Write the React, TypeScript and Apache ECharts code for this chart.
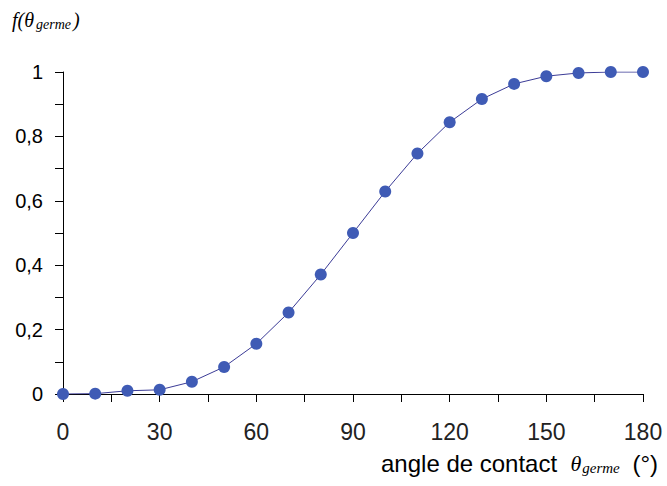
import React, { useEffect, useRef } from "react";
import * as echarts from "echarts";

const angles = [0, 10, 20, 30, 40, 50, 60, 70, 80, 90, 100, 110, 120, 130, 140, 150, 160, 170, 180];
const fValues = [0, 0.001, 0.01, 0.013, 0.038, 0.084, 0.156, 0.253, 0.371, 0.5, 0.629, 0.747, 0.844, 0.916, 0.963, 0.987, 0.997, 1.0, 1.0];
const xTicks = [0, 30, 60, 90, 120, 150, 180];
const yTicks = [0, 0.2, 0.4, 0.6, 0.8, 1];

export default function App() {
  const ref = useRef<HTMLDivElement>(null);
  useEffect(() => {
    if (!ref.current) return;
    const chart = echarts.init(ref.current, null, { renderer: "svg" });
    const data = angles.map((a, i) => [a, fValues[i]]);
    chart.setOption({
      animation: false,
      backgroundColor: "#ffffff",
      grid: { left: 63, right: 24, top: 72, bottom: 92, containLabel: false },
      xAxis: {
        type: "value",
        min: 0,
        max: 180,
        interval: 30,
        axisLine: { show: true, lineStyle: { color: "#000", width: 1 } },
        axisTick: { show: true, inside: false, length: 8, lineStyle: { color: "#000" } },
        minorTick: { show: true, splitNumber: 2, length: 8, lineStyle: { color: "#000" } },
        splitLine: { show: false },
        axisLabel: {
          margin: 26,
          fontFamily: "Liberation Sans, Arial, sans-serif",
          fontSize: 23,
          color: "#222",
          formatter: (v: number) => (xTicks.includes(v) ? String(v) : ""),
        },
      },
      yAxis: {
        type: "value",
        min: 0,
        max: 1,
        interval: 0.2,
        axisLine: { show: true, lineStyle: { color: "#000", width: 1 } },
        axisTick: { show: true, inside: false, length: 8, lineStyle: { color: "#000" } },
        minorTick: { show: true, splitNumber: 2, length: 8, lineStyle: { color: "#000" } },
        splitLine: { show: false },
        axisLabel: {
          margin: 20,
          fontFamily: "Liberation Sans, Arial, sans-serif",
          fontSize: 20,
          color: "#000",
          formatter: (v: number) => {
            const t = yTicks.find((y) => Math.abs(y - v) < 1e-9);
            return t === undefined ? "" : String(t).replace(".", ",");
          },
        },
      },
      graphic: [
        {
          type: "text",
          left: 12,
          top: 10,
          style: {
            text: "{a|f(θ}{s|germe}{a|)}",
            rich: {
              a: { fontFamily: "Liberation Serif, Times New Roman, serif", fontStyle: "italic", fontSize: 20, fill: "#000" },
              s: { fontFamily: "Liberation Serif, Times New Roman, serif", fontStyle: "italic", fontSize: 14, fill: "#000", padding: [9, 2, 0, 2] },
            },
          },
        },
        {
          type: "text",
          left: 381,
          top: 451,
          style: {
            text: "{n|angle de contact  }{t|θ}{s|germe}{n| (°)}",
            rich: {
              n: { fontFamily: "Liberation Sans, Arial, sans-serif", fontSize: 24, fill: "#000" },
              t: { fontFamily: "Liberation Serif, Times New Roman, serif", fontStyle: "italic", fontSize: 22, fill: "#000" },
              s: { fontFamily: "Liberation Serif, Times New Roman, serif", fontStyle: "italic", fontSize: 15, fill: "#000", padding: [10, 6, 0, 1] },
            },
          },
        },
      ],
      series: [
        {
          type: "line",
          data,
          symbol: "circle",
          symbolSize: 12,
          showSymbol: true,
          lineStyle: { color: "#3b3b96", width: 1 },
          itemStyle: { color: "#3f5bb5" },
          z: 5,
        },
      ],
    });
    return () => chart.dispose();
  }, []);
  return <div ref={ref} style={{ width: 667, height: 486, position: "absolute", left: 0, top: 0 }} />;
}
